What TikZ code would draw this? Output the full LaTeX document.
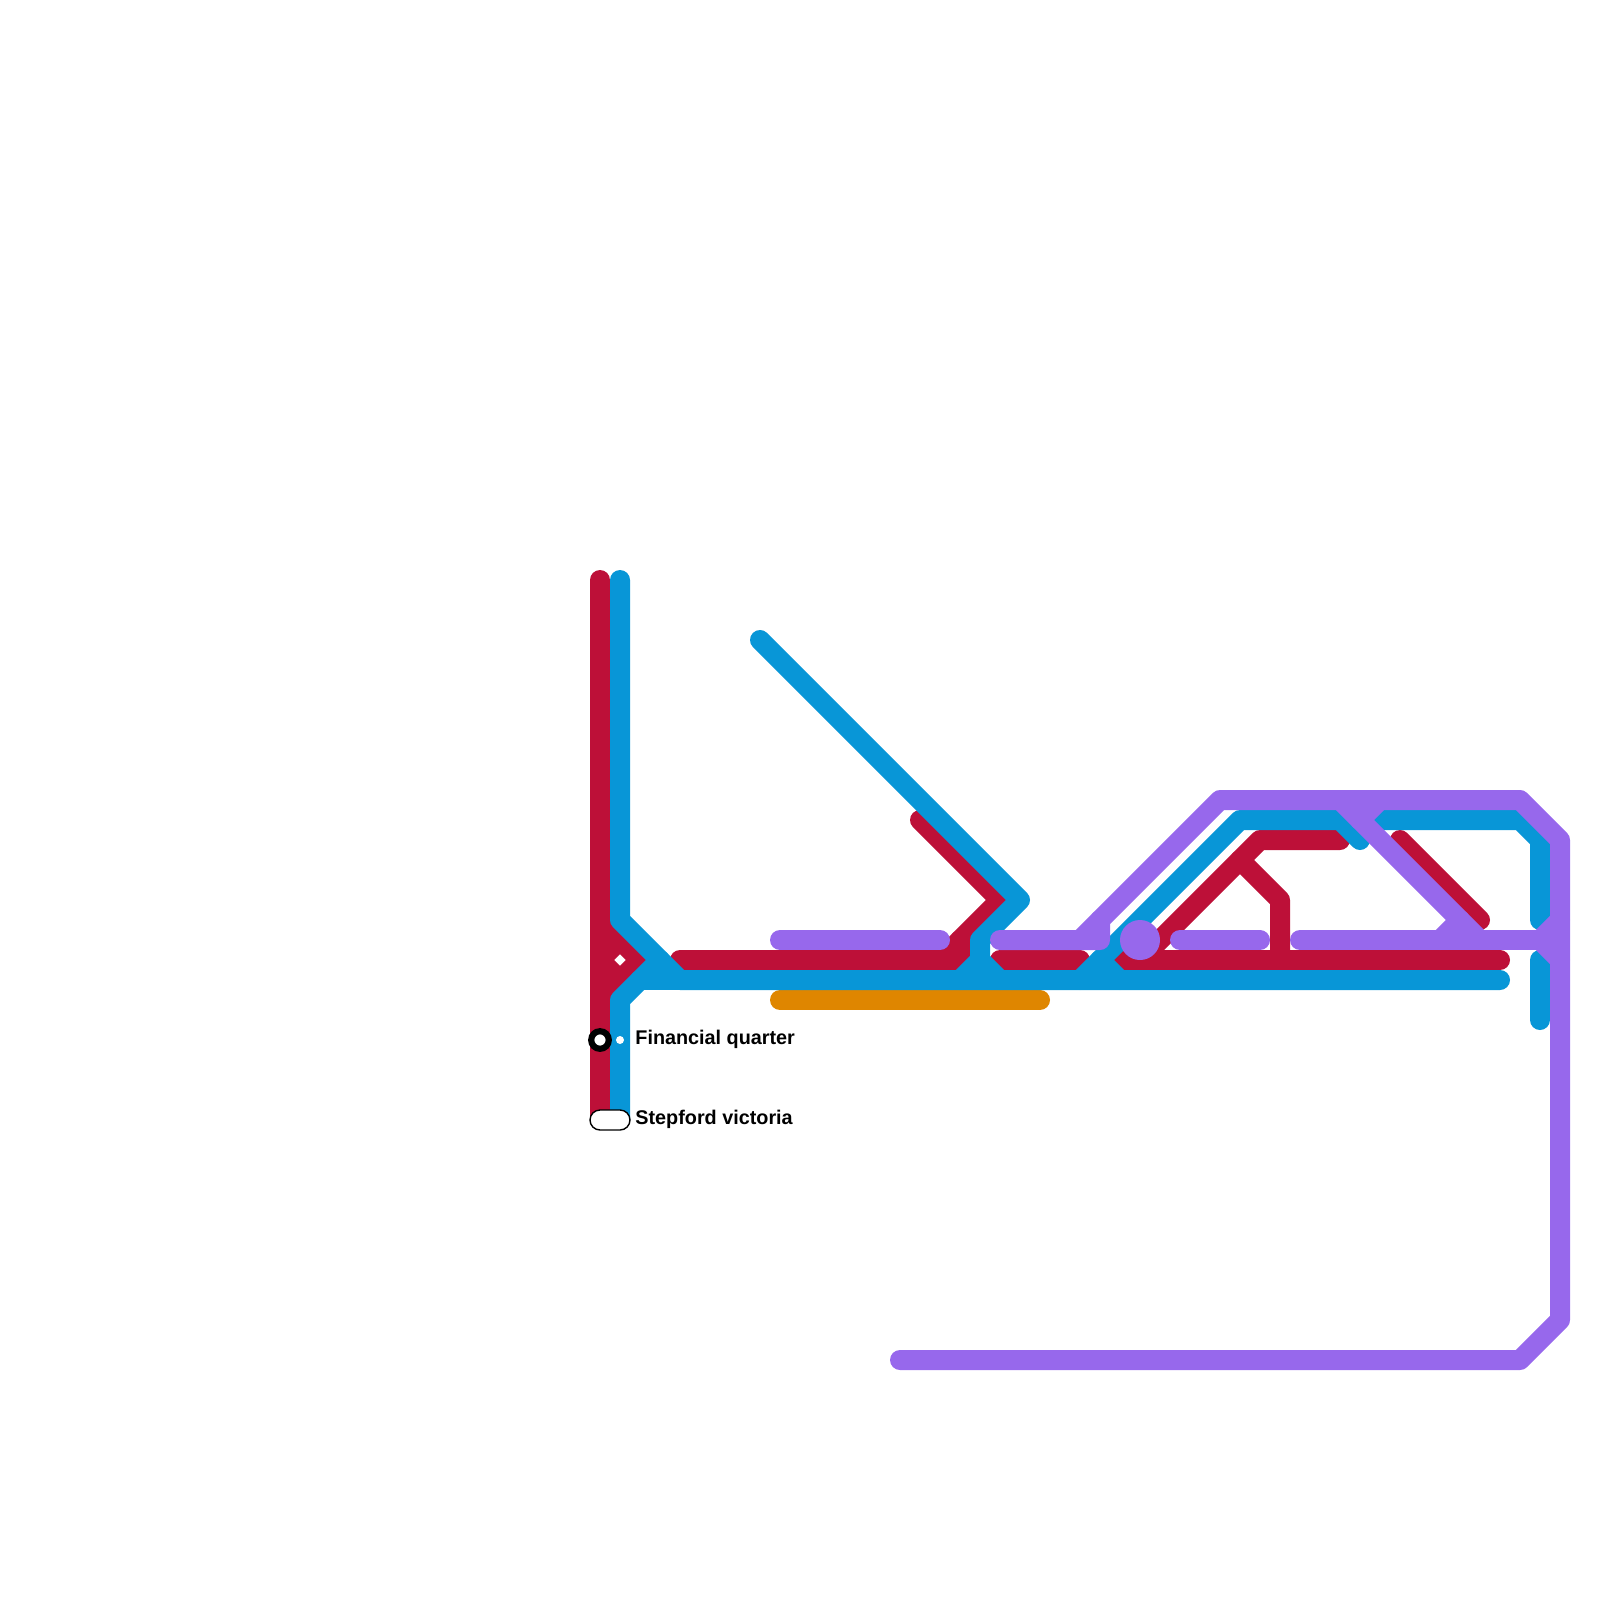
\documentclass[tikz,border=0pt]{standalone}
\usepackage{fontspec}
\setmainfont{Liberation Sans}
\definecolor{lred}{HTML}{BD1038}
\definecolor{lblue}{HTML}{0896D7}
\definecolor{lpurple}{HTML}{9768EC}
\definecolor{lorange}{HTML}{DF8600}
\tikzset{
  metro/.style={line width=10pt,line cap=round,line join=round},
  redline/.style={metro,draw=lred},
  blueline/.style={metro,draw=lblue},
  purpleline/.style={metro,draw=lpurple},
  orangeline/.style={metro,draw=lorange},
  stationlabel/.style={anchor=base west,inner sep=0pt,font=\bfseries\fontsize{9.9}{12}\selectfont,text=black},
  ringstation/.style={circle,draw=black,fill=white,line width=3.1pt,minimum size=8.8pt,inner sep=0pt},
  dotstation/.style={circle,fill=white,minimum size=4pt,inner sep=0pt},
  pillstation/.style={rounded corners=5pt,draw=black,fill=white,line width=0.7pt,minimum width=20pt,minimum height=10pt,inner sep=0pt},
  hubstation/.style={circle,fill=lpurple,minimum size=20pt,inner sep=0pt}
}
\begin{document}
\begin{tikzpicture}[x=0.5pt,y=-0.5pt]
\useasboundingbox (0,0) rectangle (1600,1600);
% orange
\draw[orangeline] (780,1000) -- (1040,1000);
% red
\draw[redline] (600,580) -- (600,1120);
\draw[redline] (600,920) -- (640,960) -- (600,1000);
\draw[redline] (620,940) -- (600,960) -- (620,980);
\draw[redline] (680,960) -- (960,960) -- (960,940) -- (1000,900) -- (920,820);
\draw[redline] (960,940) -- (940,960);
\draw[redline] (1000,960) -- (1080,960);
\draw[redline] (1120,960) -- (1500,960);
\draw[redline] (1140,960) -- (1260,840) -- (1340,840);
\draw[redline] (1240,860) -- (1280,900) -- (1280,960);
\draw[redline] (1400,840) -- (1480,920);
% blue
\draw[blueline] (620,580) -- (620,920) -- (680,980) -- (1500,980);
\draw[blueline] (640,980) -- (680,980);
\draw[blueline] (620,1120) -- (620,1000) -- (660,960);
\draw[blueline] (760,640) -- (1020,900) -- (980,940) -- (980,960) -- (960,980);
\draw[blueline] (980,960) -- (1000,980);
\draw[blueline] (1080,980) -- (1240,820) -- (1340,820) -- (1360,840);
\draw[blueline] (1100,960) -- (1120,980);
\draw[blueline] (1380,820) -- (1520,820) -- (1540,840) -- (1540,920);
\draw[blueline] (1540,960) -- (1540,1020);
% purple
\draw[purpleline] (780,940) -- (940,940);
\draw[purpleline] (1000,940) -- (1100,940) -- (1100,920) -- (1220,800) -- (1520,800) -- (1560,840) -- (1560,1320) -- (1520,1360) -- (900,1360);
\draw[purpleline] (1080,940) -- (1100,920);
\draw[purpleline] (1180,940) -- (1260,940);
\draw[purpleline] (1300,940) -- (1540,940);
\draw[purpleline] (1560,920) -- (1540,940) -- (1560,960);
\draw[purpleline] (1340,800) -- (1480,940);
\draw[purpleline] (1380,800) -- (1360,820);
\draw[purpleline] (1440,940) -- (1460,920);
% stations
\node[hubstation] (hub) at (1140,940) {};
\node[ringstation] (finred) at (600,1040) {};
\node[dotstation] (finblue) at (620,1040) {};
\node[pillstation] (stepford) at (610,1120) {};
\node[stationlabel] (finlabel) at (635,1044.5) {Financial quarter};
\node[stationlabel] (steplabel) at (635,1124.5) {Stepford victoria};
\end{tikzpicture}
\end{document}
